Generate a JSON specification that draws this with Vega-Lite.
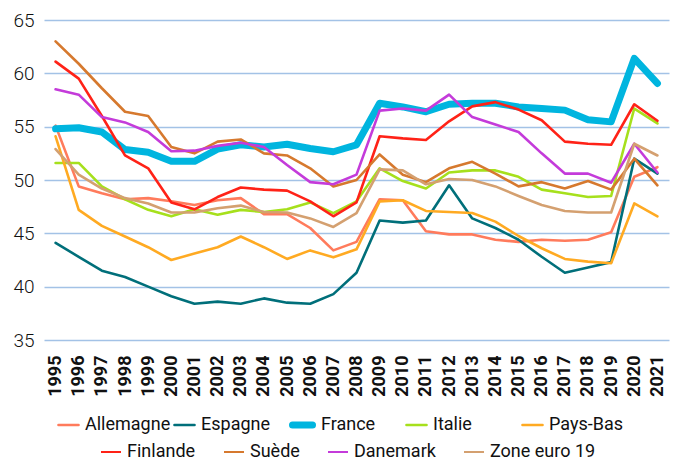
{
  "$schema": "https://vega.github.io/schema/vega-lite/v6.json",
  "autosize": {"type": "none"},
  "width": 625,
  "height": 320,
  "padding": {"left": 44, "top": 20, "right": 9, "bottom": 131},
  "background": "white",
  "datasets": {
    "a": [
      {"year":"1995","country":"Allemagne","value":55.1},{"year":"1996","country":"Allemagne","value":49.4},{"year":"1997","country":"Allemagne","value":48.75},{"year":"1998","country":"Allemagne","value":48.2},{"year":"1999","country":"Allemagne","value":48.3},{"year":"2000","country":"Allemagne","value":48.0},{"year":"2001","country":"Allemagne","value":47.65},{"year":"2002","country":"Allemagne","value":48.1},{"year":"2003","country":"Allemagne","value":48.3},{"year":"2004","country":"Allemagne","value":46.8},{"year":"2005","country":"Allemagne","value":46.8},{"year":"2006","country":"Allemagne","value":45.5},{"year":"2007","country":"Allemagne","value":43.4},{"year":"2008","country":"Allemagne","value":44.2},{"year":"2009","country":"Allemagne","value":48.2},{"year":"2010","country":"Allemagne","value":48.1},{"year":"2011","country":"Allemagne","value":45.2},{"year":"2012","country":"Allemagne","value":44.9},{"year":"2013","country":"Allemagne","value":44.9},{"year":"2014","country":"Allemagne","value":44.4},{"year":"2015","country":"Allemagne","value":44.2},{"year":"2016","country":"Allemagne","value":44.4},{"year":"2017","country":"Allemagne","value":44.3},{"year":"2018","country":"Allemagne","value":44.4},{"year":"2019","country":"Allemagne","value":45.1},{"year":"2020","country":"Allemagne","value":50.3},{"year":"2021","country":"Allemagne","value":51.2},
      {"year":"1995","country":"Espagne","value":44.1},{"year":"1996","country":"Espagne","value":42.8},{"year":"1997","country":"Espagne","value":41.5},{"year":"1998","country":"Espagne","value":40.9},{"year":"1999","country":"Espagne","value":40.0},{"year":"2000","country":"Espagne","value":39.1},{"year":"2001","country":"Espagne","value":38.4},{"year":"2002","country":"Espagne","value":38.6},{"year":"2003","country":"Espagne","value":38.4},{"year":"2004","country":"Espagne","value":38.9},{"year":"2005","country":"Espagne","value":38.5},{"year":"2006","country":"Espagne","value":38.4},{"year":"2007","country":"Espagne","value":39.3},{"year":"2008","country":"Espagne","value":41.3},{"year":"2009","country":"Espagne","value":46.2},{"year":"2010","country":"Espagne","value":46.0},{"year":"2011","country":"Espagne","value":46.2},{"year":"2012","country":"Espagne","value":49.5},{"year":"2013","country":"Espagne","value":46.4},{"year":"2014","country":"Espagne","value":45.5},{"year":"2015","country":"Espagne","value":44.4},{"year":"2016","country":"Espagne","value":42.8},{"year":"2017","country":"Espagne","value":41.3},{"year":"2018","country":"Espagne","value":41.8},{"year":"2019","country":"Espagne","value":42.3},{"year":"2020","country":"Espagne","value":52.0},{"year":"2021","country":"Espagne","value":50.6},
      {"year":"1995","country":"France","value":54.8},{"year":"1996","country":"France","value":54.9},{"year":"1997","country":"France","value":54.5},{"year":"1998","country":"France","value":52.85},{"year":"1999","country":"France","value":52.6},{"year":"2000","country":"France","value":51.75},{"year":"2001","country":"France","value":51.75},{"year":"2002","country":"France","value":52.9},{"year":"2003","country":"France","value":53.3},{"year":"2004","country":"France","value":53.1},{"year":"2005","country":"France","value":53.35},{"year":"2006","country":"France","value":52.95},{"year":"2007","country":"France","value":52.65},{"year":"2008","country":"France","value":53.3},{"year":"2009","country":"France","value":57.2},{"year":"2010","country":"France","value":56.85},{"year":"2011","country":"France","value":56.4},{"year":"2012","country":"France","value":57.1},{"year":"2013","country":"France","value":57.2},{"year":"2014","country":"France","value":57.2},{"year":"2015","country":"France","value":56.85},{"year":"2016","country":"France","value":56.7},{"year":"2017","country":"France","value":56.55},{"year":"2018","country":"France","value":55.65},{"year":"2019","country":"France","value":55.45},{"year":"2020","country":"France","value":61.4},{"year":"2021","country":"France","value":59.05},
      {"year":"1995","country":"Italie","value":51.6},{"year":"1996","country":"Italie","value":51.6},{"year":"1997","country":"Italie","value":49.4},{"year":"1998","country":"Italie","value":48.2},{"year":"1999","country":"Italie","value":47.2},{"year":"2000","country":"Italie","value":46.6},{"year":"2001","country":"Italie","value":47.25},{"year":"2002","country":"Italie","value":46.75},{"year":"2003","country":"Italie","value":47.2},{"year":"2004","country":"Italie","value":47.0},{"year":"2005","country":"Italie","value":47.25},{"year":"2006","country":"Italie","value":47.9},{"year":"2007","country":"Italie","value":46.9},{"year":"2008","country":"Italie","value":48.0},{"year":"2009","country":"Italie","value":51.1},{"year":"2010","country":"Italie","value":49.9},{"year":"2011","country":"Italie","value":49.2},{"year":"2012","country":"Italie","value":50.7},{"year":"2013","country":"Italie","value":50.9},{"year":"2014","country":"Italie","value":50.9},{"year":"2015","country":"Italie","value":50.3},{"year":"2016","country":"Italie","value":49.1},{"year":"2017","country":"Italie","value":48.75},{"year":"2018","country":"Italie","value":48.4},{"year":"2019","country":"Italie","value":48.5},{"year":"2020","country":"Italie","value":56.7},{"year":"2021","country":"Italie","value":55.3},
      {"year":"1995","country":"Pays-Bas","value":54.1},{"year":"1996","country":"Pays-Bas","value":47.2},{"year":"1997","country":"Pays-Bas","value":45.7},{"year":"1998","country":"Pays-Bas","value":44.7},{"year":"1999","country":"Pays-Bas","value":43.7},{"year":"2000","country":"Pays-Bas","value":42.5},{"year":"2001","country":"Pays-Bas","value":43.1},{"year":"2002","country":"Pays-Bas","value":43.7},{"year":"2003","country":"Pays-Bas","value":44.7},{"year":"2004","country":"Pays-Bas","value":43.7},{"year":"2005","country":"Pays-Bas","value":42.6},{"year":"2006","country":"Pays-Bas","value":43.4},{"year":"2007","country":"Pays-Bas","value":42.75},{"year":"2008","country":"Pays-Bas","value":43.5},{"year":"2009","country":"Pays-Bas","value":48.0},{"year":"2010","country":"Pays-Bas","value":48.1},{"year":"2011","country":"Pays-Bas","value":47.1},{"year":"2012","country":"Pays-Bas","value":47.0},{"year":"2013","country":"Pays-Bas","value":46.9},{"year":"2014","country":"Pays-Bas","value":46.1},{"year":"2015","country":"Pays-Bas","value":44.75},{"year":"2016","country":"Pays-Bas","value":43.6},{"year":"2017","country":"Pays-Bas","value":42.6},{"year":"2018","country":"Pays-Bas","value":42.35},{"year":"2019","country":"Pays-Bas","value":42.2},{"year":"2020","country":"Pays-Bas","value":47.8},{"year":"2021","country":"Pays-Bas","value":46.6}
    ],
    "b": [
      {"year":"1995","country":"Finlande","value":61.1},{"year":"1996","country":"Finlande","value":59.5},{"year":"1997","country":"Finlande","value":56.0},{"year":"1998","country":"Finlande","value":52.3},{"year":"1999","country":"Finlande","value":51.1},{"year":"2000","country":"Finlande","value":47.9},{"year":"2001","country":"Finlande","value":47.25},{"year":"2002","country":"Finlande","value":48.4},{"year":"2003","country":"Finlande","value":49.3},{"year":"2004","country":"Finlande","value":49.1},{"year":"2005","country":"Finlande","value":49.0},{"year":"2006","country":"Finlande","value":48.0},{"year":"2007","country":"Finlande","value":46.6},{"year":"2008","country":"Finlande","value":47.9},{"year":"2009","country":"Finlande","value":54.1},{"year":"2010","country":"Finlande","value":53.9},{"year":"2011","country":"Finlande","value":53.75},{"year":"2012","country":"Finlande","value":55.5},{"year":"2013","country":"Finlande","value":56.9},{"year":"2014","country":"Finlande","value":57.3},{"year":"2015","country":"Finlande","value":56.6},{"year":"2016","country":"Finlande","value":55.6},{"year":"2017","country":"Finlande","value":53.6},{"year":"2018","country":"Finlande","value":53.4},{"year":"2019","country":"Finlande","value":53.3},{"year":"2020","country":"Finlande","value":57.1},{"year":"2021","country":"Finlande","value":55.55},
      {"year":"1995","country":"Suède","value":63.0},{"year":"1996","country":"Suède","value":60.9},{"year":"1997","country":"Suède","value":58.6},{"year":"1998","country":"Suède","value":56.4},{"year":"1999","country":"Suède","value":56.0},{"year":"2000","country":"Suède","value":53.1},{"year":"2001","country":"Suède","value":52.5},{"year":"2002","country":"Suède","value":53.6},{"year":"2003","country":"Suède","value":53.8},{"year":"2004","country":"Suède","value":52.5},{"year":"2005","country":"Suède","value":52.3},{"year":"2006","country":"Suède","value":51.1},{"year":"2007","country":"Suède","value":49.4},{"year":"2008","country":"Suède","value":50.0},{"year":"2009","country":"Suède","value":52.4},{"year":"2010","country":"Suède","value":50.5},{"year":"2011","country":"Suède","value":49.8},{"year":"2012","country":"Suède","value":51.1},{"year":"2013","country":"Suède","value":51.7},{"year":"2014","country":"Suède","value":50.6},{"year":"2015","country":"Suède","value":49.4},{"year":"2016","country":"Suède","value":49.8},{"year":"2017","country":"Suède","value":49.2},{"year":"2018","country":"Suède","value":49.9},{"year":"2019","country":"Suède","value":49.1},{"year":"2020","country":"Suède","value":52.0},{"year":"2021","country":"Suède","value":49.5},
      {"year":"1995","country":"Danemark","value":58.5},{"year":"1996","country":"Danemark","value":58.0},{"year":"1997","country":"Danemark","value":55.9},{"year":"1998","country":"Danemark","value":55.4},{"year":"1999","country":"Danemark","value":54.5},{"year":"2000","country":"Danemark","value":52.7},{"year":"2001","country":"Danemark","value":52.75},{"year":"2002","country":"Danemark","value":53.2},{"year":"2003","country":"Danemark","value":53.5},{"year":"2004","country":"Danemark","value":53.1},{"year":"2005","country":"Danemark","value":51.4},{"year":"2006","country":"Danemark","value":49.8},{"year":"2007","country":"Danemark","value":49.6},{"year":"2008","country":"Danemark","value":50.5},{"year":"2009","country":"Danemark","value":56.5},{"year":"2010","country":"Danemark","value":56.7},{"year":"2011","country":"Danemark","value":56.5},{"year":"2012","country":"Danemark","value":58.0},{"year":"2013","country":"Danemark","value":55.9},{"year":"2014","country":"Danemark","value":55.2},{"year":"2015","country":"Danemark","value":54.5},{"year":"2016","country":"Danemark","value":52.5},{"year":"2017","country":"Danemark","value":50.6},{"year":"2018","country":"Danemark","value":50.6},{"year":"2019","country":"Danemark","value":49.75},{"year":"2020","country":"Danemark","value":53.4},{"year":"2021","country":"Danemark","value":50.7},
      {"year":"1995","country":"Zone euro 19","value":52.9},{"year":"1996","country":"Zone euro 19","value":50.5},{"year":"1997","country":"Zone euro 19","value":49.2},{"year":"1998","country":"Zone euro 19","value":48.3},{"year":"1999","country":"Zone euro 19","value":47.8},{"year":"2000","country":"Zone euro 19","value":46.95},{"year":"2001","country":"Zone euro 19","value":46.95},{"year":"2002","country":"Zone euro 19","value":47.35},{"year":"2003","country":"Zone euro 19","value":47.6},{"year":"2004","country":"Zone euro 19","value":47.0},{"year":"2005","country":"Zone euro 19","value":46.95},{"year":"2006","country":"Zone euro 19","value":46.4},{"year":"2007","country":"Zone euro 19","value":45.6},{"year":"2008","country":"Zone euro 19","value":46.9},{"year":"2009","country":"Zone euro 19","value":51.0},{"year":"2010","country":"Zone euro 19","value":50.9},{"year":"2011","country":"Zone euro 19","value":49.6},{"year":"2012","country":"Zone euro 19","value":50.1},{"year":"2013","country":"Zone euro 19","value":50.0},{"year":"2014","country":"Zone euro 19","value":49.4},{"year":"2015","country":"Zone euro 19","value":48.5},{"year":"2016","country":"Zone euro 19","value":47.65},{"year":"2017","country":"Zone euro 19","value":47.1},{"year":"2018","country":"Zone euro 19","value":46.95},{"year":"2019","country":"Zone euro 19","value":46.95},{"year":"2020","country":"Zone euro 19","value":53.4},{"year":"2021","country":"Zone euro 19","value":52.3}
    ]
  },
  "encoding": {
    "x": {
      "field": "year", "type": "ordinal", "title": null,
      "axis": {"labelAngle": 270, "labelFont": "Roboto", "labelFontWeight": "bold", "labelFontSize": 18, "labelColor": "#111", "labelPadding": 15, "domain": false, "ticks": false, "grid": false}
    },
    "y": {
      "field": "value", "type": "quantitative", "title": null,
      "scale": {"domain": [35, 65], "nice": false, "zero": false},
      "axis": {"values": [35, 40, 45, 50, 55, 60, 65], "labelFont": "Roboto", "labelFontSize": 19, "labelFontWeight": 300, "labelColor": "#111", "labelPadding": 10, "domain": false, "ticks": false, "grid": true, "gridColor": "#A3C2E6", "gridWidth": 1.5}
    }
  },
  "layer": [
    {
      "data": {"name": "a"},
      "mark": {"type": "line", "strokeJoin": "round", "strokeCap": "round"},
      "encoding": {
        "color": {
          "field": "country", "type": "ordinal",
          "scale": {"type": "ordinal", "domain": ["Allemagne", "Espagne", "France", "Italie", "Pays-Bas"], "range": ["#FF7B5C", "#006F7A", "#00B5DF", "#A6E01C", "#FFAA22"]},
          "legend": {"orient": "none", "legendX": 13, "legendY": 394, "direction": "horizontal", "title": null, "symbolType": "stroke", "symbolSize": 400, "symbolStrokeWidth": 2, "labelFont": "Roboto", "labelFontSize": 18, "labelColor": "#111", "gridAlign": "all", "columnPadding": 2, "labelOffset": 5, "padding": 0, "clipHeight": 22,
            "encode": {"symbols": {"update": {"strokeWidth": {"signal": "datum.value === 'France' ? 6 : 2"}, "strokeCap": {"value": "round"}}}}}
        },
        "strokeWidth": {
          "field": "country", "type": "ordinal",
          "scale": {"type": "ordinal", "domain": ["Allemagne", "Espagne", "France", "Italie", "Pays-Bas"], "range": [2.6, 2.6, 7, 2.6, 2.6]},
          "legend": null
        }
      }
    },
    {
      "data": {"name": "b"},
      "mark": {"type": "line", "strokeWidth": 2.6, "strokeJoin": "round", "strokeCap": "round"},
      "encoding": {
        "color": {
          "field": "country", "type": "nominal",
          "scale": {"domain": ["Finlande", "Suède", "Danemark", "Zone euro 19"], "range": ["#FF2217", "#D6792E", "#C43BDA", "#D4A070"]},
          "legend": {"orient": "none", "legendX": 56, "legendY": 421, "direction": "horizontal", "title": null, "symbolType": "stroke", "symbolSize": 400, "symbolStrokeWidth": 2, "labelFont": "Roboto", "labelFontSize": 18, "labelColor": "#111", "gridAlign": "each", "columnPadding": 27, "labelOffset": 5, "padding": 0, "clipHeight": 22}
        }
      }
    }
  ],
  "resolve": {"scale": {"color": "independent", "strokeWidth": "independent"}, "legend": {"color": "independent", "strokeWidth": "independent"}},
  "config": {"view": {"stroke": null}}
}
